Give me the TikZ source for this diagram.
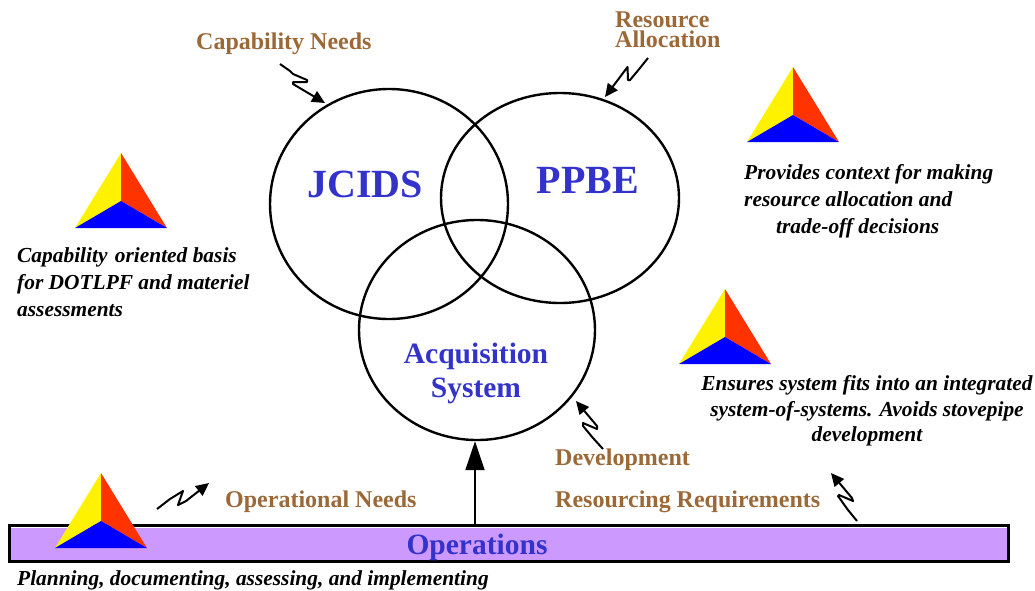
\documentclass[tikz,border=0pt]{standalone}
\usepackage{fontspec}
\setmainfont{Liberation Serif}
\usetikzlibrary{arrows.meta,shapes.geometric}
\definecolor{brownlab}{RGB}{155,104,56}
\definecolor{bluetxt}{RGB}{51,51,204}
\definecolor{barfill}{RGB}{204,153,255}
\definecolor{tred}{RGB}{255,51,0}
\tikzset{
  ring/.style={draw=black,line width=2.4pt,fill=none,ellipse,inner sep=0pt},
  brownt/.style={text=brownlab,font=\fontsize{24}{20}\selectfont\bfseries,inner sep=0pt,align=left},
  bigblue/.style={text=bluetxt,font=\fontsize{40}{40}\selectfont\bfseries,inner sep=0pt},
  midblue/.style={text=bluetxt,font=\fontsize{29.5}{34}\selectfont\bfseries,inner sep=0pt,align=center},
  note/.style={text=black,font=\fontsize{21.4}{27}\selectfont\bfseries\itshape,inner sep=0pt,align=left},
  zig/.style={draw=black,line width=2pt,-{Triangle[length=13pt,width=12pt]},line join=round}
}
\newcommand{\tri}[2]{%
  \fill[yellow] (#1,#2) -- (#1-46,#2+75) -- (#1,#2+48) -- cycle;
  \fill[tred] (#1,#2) -- (#1+46,#2+75) -- (#1,#2+48) -- cycle;
  \fill[blue] (#1-46,#2+75) -- (#1+46,#2+75) -- (#1,#2+48) -- cycle;
}
\begin{document}
\begin{tikzpicture}[x=1pt,y=-1pt]
\useasboundingbox (0,0) rectangle (1035,590);
% bar
\node[draw=black,line width=2.6pt,fill=white,outer sep=0pt,minimum width=999pt,minimum height=36pt,inner sep=0pt,anchor=north west] (bar) at (9.5,525.3) {};
\fill[barfill] (11,527.5) rectangle (1007.2,560);
\node[midblue] (ops) at (477,547) {Operations};
% circles
\node[ring,minimum width=238pt,minimum height=230pt] (jcids) at (389,204) {};
\node[ring,minimum width=238pt,minimum height=210pt] (ppbe) at (560,198) {};
\node[ring,minimum width=236pt,minimum height=220pt] (acq) at (477,330) {};
\node[bigblue] (tj) at (365,184) {JCIDS};
\node[bigblue] (tp) at (588,180) {PPBE};
\node[midblue] (ta) at (476,373.5) {Acquisition\\System};
% main arrow
\coordinate (mainfoot) at (475,524);
\draw[line width=2pt,-{Triangle[length=29pt,width=19pt]}] (mainfoot) -- (mainfoot |- acq.south);
% triangles
\tri{121}{153}
\tri{793}{67}
\tri{725}{289}
\tri{101}{473}
% labels
\node[brownt,anchor=west] (l1) at (196,43.5) {Capability Needs};
\node[brownt,anchor=north west] (l2) at (615,12) {Resource\\Allocation};
\node[brownt,anchor=west] (l3) at (225,501.5) {Operational Needs};
\node[brownt,anchor=west] (l4) at (555,460) {Development};
\node[brownt,anchor=west] (l5) at (555,502) {Resourcing Requirements};
% notes
\node[note,anchor=north west] (n1) at (17,247) {Capability\ \hspace{2pt}oriented basis\\for DOTLPF and materiel\\assessments};
\node[note,anchor=north west] (n2) at (744,164) {Provides context for making\\resource allocation and\\\hspace*{32pt}trade-off decisions};
\node[note,anchor=north,align=center,font=\fontsize{21.4}{25.8}\selectfont\bfseries\itshape] (n3) at (867,375) {Ensures system fits into an integrated\\system-of-systems. Avoids stovepipe\\development};
\node[note,anchor=west] (n4) at (17,580) {Planning, documenting, assessing, and implementing};
% zigzag connectors
\coordinate (z1a) at (280,64);
\coordinate (z1b) at (325,103);
\coordinate (z2a) at (648,58);
\coordinate (z2b) at (605,97);
\coordinate (z3a) at (157,509);
\coordinate (z3b) at (209,483);
\coordinate (z4a) at (603,449);
\coordinate (z4b) at (576,401);
\coordinate (z5a) at (857,521);
\coordinate (z5b) at (831,473);
\draw[zig] (z1a) -- (290,71) -- (293,74) -- (307,80) -- (307,82) -- (293,82) -- (293,84) -- (z1b);
\draw[zig] (z2a) -- (640,68) -- (630,80) -- (628,80) -- (627.5,67) -- (620,77) -- (z2b);
\draw[zig] (z3a) -- (170,499) -- (183,491) -- (178,505) -- (186,501) -- (z3b);
\draw[zig] (z4a) -- (593,438) -- (583,426) -- (583,423) -- (597,429) -- (597,426) -- (z4b);
\draw[zig] (z5a) -- (848,510) -- (838,496) -- (839,495) -- (853,501) -- (852,498) -- (z5b);
\end{tikzpicture}
\end{document}
